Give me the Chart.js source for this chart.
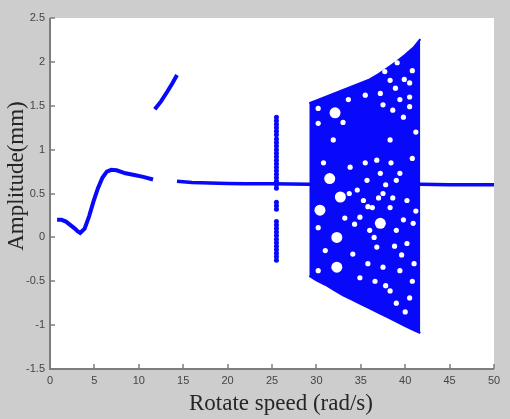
<!DOCTYPE html>
<html>
<head>
<meta charset="utf-8">
<script src="https://cdn.jsdelivr.net/npm/chart.js@4.4.1/dist/chart.umd.min.js"></script>
<style>
  html, body { margin: 0; padding: 0; background: #cdcdcd; }
  #wrap { width: 510px; height: 419px; position: relative; }
</style>
</head>
<body>
<div id="wrap"><canvas id="chart" width="510" height="419"></canvas></div>
<script>
// values
const xTicks = [0, 5, 10, 15, 20, 25, 30, 35, 40, 45, 50];
const yTicks = [-1.5, -1, -0.5, 0, 0.5, 1, 1.5, 2, 2.5];

// low speed branch
const lowX = [0.8, 1.3, 1.8, 2.3, 2.8, 3.1, 3.4, 3.9, 4.4, 4.9, 5.4, 5.9, 6.4, 6.9, 7.5, 8.5, 9.5, 10.5, 11.6];
const lowY = [0.2, 0.2, 0.18, 0.14, 0.1, 0.07, 0.05, 0.1, 0.24, 0.41, 0.56, 0.68, 0.75, 0.77, 0.765, 0.73, 0.71, 0.69, 0.66];

// jump branch
const upX = [11.8, 12.5, 13.2, 13.8, 14.3];
const upY = [1.46, 1.55, 1.66, 1.76, 1.85];

// steady branch
const flatX = [14.3, 16, 18, 20, 22, 25, 29.2, 35, 41.7, 45, 50];
const flatY = [0.64, 0.625, 0.62, 0.615, 0.61, 0.61, 0.605, 0.605, 0.605, 0.6, 0.6];

// scatter at 25.5 rad/s
const stripY = [1.37, 1.33, 1.29, 1.25, 1.21, 1.17, 1.12, 1.08, 1.04, 1.0, 0.96, 0.92, 0.88, 0.84,
  0.8, 0.76, 0.72, 0.68, 0.64, 0.6, 0.56, 0.4, 0.36, 0.32, 0.18, 0.14, 0.1, 0.06, 0.02,
  -0.02, -0.06, -0.1, -0.14, -0.18, -0.22, -0.26];

// chaotic band envelope
const bandX = [29.2, 30, 31, 32, 33, 34, 35, 36, 37, 38, 39, 40, 41, 41.7];
const bandTop = [1.53, 1.56, 1.6, 1.64, 1.68, 1.72, 1.76, 1.8, 1.86, 1.93, 2.0, 2.08, 2.17, 2.26];
const bandBottom = [-0.44, -0.49, -0.54, -0.6, -0.66, -0.71, -0.76, -0.81, -0.86, -0.91, -0.96, -1.01, -1.06, -1.09];

// empty spots inside the band
const bigGapX = [31.5, 32.7, 32.3, 32.3, 37.2, 32.1, 30.4];
const bigGapY = [0.67, 0.46, 0.0, -0.34, 0.16, 1.42, 0.31];
const gapX = [30.2, 33.6, 30.2, 33.0, 35.5, 38.6, 38.3, 31.9, 30.2, 30.2, 34.1, 35.7, 33.8,
  35.3, 39.0, 40.2, 39.0, 36.8, 37.5, 39.4, 40.2, 38.3, 40.5, 34.9, 34.6, 37.5, 36.3, 38.3, 36.0,
  34.9, 40.9, 39.4, 37.2, 39.8, 40.5, 37.5, 38.3, 37.7, 40.5, 39.4, 40.5, 37.2, 39.1,
  40.8, 41.2, 41.0, 40.8, 39.8, 39.6, 38.8, 38.6, 37.8, 37.0, 36.5, 35.8, 36.6, 37.8, 39.0, 40.0,
  35.5, 36.8, 38.4, 34.3, 33.7, 35.8, 41.2, 40.8, 39.9, 38.9, 31.0, 33.2, 30.8];
const gapY = [1.47, 1.57, 1.3, 1.31, 1.62, 1.45, 1.11, 1.11, 0.11, -0.38, -0.19, 0.65, 0.8,
  0.42, 0.65, 0.42, 0.08, -0.11, -0.34, -0.38, -0.07, -0.61, -0.69, 0.23, 0.54, 0.5, 0.34, 0.34, 0.08,
  -0.46, 0.16, 0.73, 0.73, 1.37, 1.6, 1.51, 1.79, 1.89, 1.76, 1.57, 1.49, 1.64, 1.99,
  0.9, 0.3, -0.3, -0.5, 0.2, -0.2, -0.1, 0.45, 0.6, 0.45, 0.0, -0.3, -0.5, -0.55, -0.75, -0.85,
  0.85, 0.88, 0.85, 0.15, 0.5, 0.35, 1.2, 1.9, 1.8, 1.7, -0.15, 0.22, 0.85];

const BLUE = 'rgb(8, 8, 250)';
const pts = (xs, ys) => xs.map((x, i) => ({ x: x, y: ys[i] }));

// frame: grey figure, white axes box, inward ticks, axis titles
const framePlugin = {
  id: 'frame',
  beforeDraw(chart) {
    const { ctx, chartArea: a } = chart;
    ctx.save();
    ctx.fillStyle = '#cdcdcd';
    ctx.fillRect(0, 0, chart.width, chart.height);
    ctx.fillStyle = '#ffffff';
    ctx.fillRect(a.left, a.top, a.right - a.left, a.bottom - a.top);
    ctx.restore();
  },
  afterDraw(chart) {
    const { ctx, chartArea: a, scales } = chart;
    ctx.save();
    ctx.strokeStyle = '#7d7d7d';
    ctx.lineWidth = 2;
    ctx.beginPath();
    ctx.moveTo(a.left, a.top);
    ctx.lineTo(a.left, a.bottom);
    ctx.lineTo(a.right, a.bottom);
    ctx.stroke();
    ctx.lineWidth = 1.5;
    ctx.beginPath();
    xTicks.forEach(v => {
      const px = Math.round(scales.x.getPixelForValue(v));
      ctx.moveTo(px, a.bottom);
      ctx.lineTo(px, a.bottom - 5);
    });
    yTicks.forEach(v => {
      const py = Math.round(scales.y.getPixelForValue(v));
      ctx.moveTo(a.left, py);
      ctx.lineTo(a.left + 5, py);
    });
    ctx.stroke();

    ctx.fillStyle = '#262626';
    ctx.font = '23px "Liberation Serif", "DejaVu Serif", serif';
    ctx.textAlign = 'center';
    ctx.textBaseline = 'middle';
    ctx.fillText('Rotate speed (rad/s)', 281, 404);
    ctx.translate(17, 176);
    ctx.rotate(-Math.PI / 2);
    ctx.fillText('Amplitude(mm)', 0, 0);
    ctx.restore();
  }
};

const lineSet = (data, width) => ({
  data: data,
  showLine: true,
  borderColor: BLUE,
  borderWidth: width,
  pointRadius: 0,
  fill: false,
  order: 4
});

const tickFont = { family: '"Liberation Sans", Arial, sans-serif', size: 11 };

new Chart(document.getElementById('chart'), {
  type: 'scatter',
  data: {
    datasets: [
      { data: pts(bigGapX, bigGapY), pointRadius: 5.5, pointBackgroundColor: '#ffffff', pointBorderWidth: 0, order: 0 },
      { data: pts(gapX, gapY), pointRadius: 2.6, pointBackgroundColor: '#ffffff', pointBorderWidth: 0, order: 1 },
      { data: pts(bandX, bandTop), showLine: true, borderColor: BLUE, borderWidth: 2, pointRadius: 0,
        backgroundColor: BLUE, fill: '+1', order: 2 },
      { data: pts(bandX, bandBottom), showLine: true, borderColor: BLUE, borderWidth: 2, pointRadius: 0,
        fill: false, order: 2 },
      { data: stripY.map(y => ({ x: 25.5, y: y })), pointRadius: 2.5, pointBackgroundColor: BLUE,
        pointBorderWidth: 0, order: 3 },
      lineSet(pts(flatX, flatY), 3.5),
      lineSet(pts(lowX, lowY), 4),
      lineSet(pts(upX, upY), 4)
    ]
  },
  options: {
    responsive: false,
    animation: false,
    layout: { padding: { top: 18, right: 16, left: 0, bottom: 0 } },
    plugins: { legend: { display: false }, tooltip: { enabled: false } },
    scales: {
      x: {
        type: 'linear', min: 0, max: 50,
        afterBuildTicks: s => { s.ticks = xTicks.map(v => ({ value: v })); },
        afterFit: s => { s.height = 50; },
        grid: { display: false, drawTicks: false },
        border: { display: false },
        ticks: { padding: 5, color: '#454545', font: tickFont, callback: v => String(v) }
      },
      y: {
        type: 'linear', min: -1.5, max: 2.5,
        afterBuildTicks: s => { s.ticks = yTicks.map(v => ({ value: v })); },
        afterFit: s => { s.width = 50; },
        grid: { display: false, drawTicks: false },
        border: { display: false },
        ticks: { padding: 5, color: '#454545', font: tickFont, callback: v => String(v) }
      }
    }
  },
  plugins: [framePlugin]
});
</script>
</body>
</html>
